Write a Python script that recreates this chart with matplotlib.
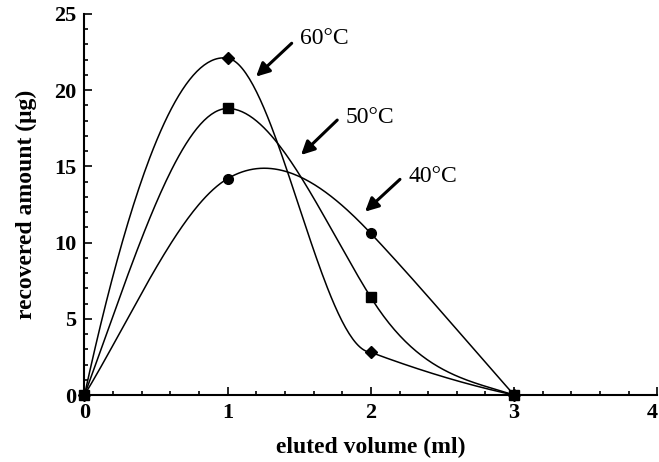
import numpy as np
import matplotlib
matplotlib.use('Agg')
from matplotlib import pyplot as plt
from matplotlib.ticker import MultipleLocator

volume = [0, 1, 2, 3]
amount_60 = [0, 22.1, 2.8, 0]
amount_50 = [0, 18.8, 6.4, 0]
amount_40 = [0, 14.2, 10.6, 0]
labels = ['60°C', '50°C', '40°C']

# curve slopes (arriving / leaving each point)
slope_in_60 = [43, -1.5, -0.5, -2]
slope_out_60 = [43, -1.5, -3.5, -2]
slope_in_50 = [25.5, 0, -15, -3]
slope_out_50 = [25.5, 0, -15, -3]
slope_in_40 = [15.5, 5.5, -10, -10.6]
slope_out_40 = [15.5, 5.5, -10, -10.6]


def hermite(x, y, m_in, m_out, n=80):
    xs, ys = [], []
    for i in range(len(x) - 1):
        h = x[i + 1] - x[i]
        t = np.linspace(0, 1, n)
        h00 = 2 * t**3 - 3 * t**2 + 1
        h10 = t**3 - 2 * t**2 + t
        h01 = -2 * t**3 + 3 * t**2
        h11 = t**3 - t**2
        xs.append(x[i] + h * t)
        ys.append(h00 * y[i] + h10 * h * m_out[i] + h01 * y[i + 1] + h11 * h * m_in[i + 1])
    return np.concatenate(xs), np.concatenate(ys)


fig = plt.figure(figsize=(6.59, 4.62), dpi=100)
ax = fig.add_axes([0.1282, 0.145, 0.8692, 0.8247])

series = [(amount_60, slope_in_60, slope_out_60, 'D', 6),
          (amount_50, slope_in_50, slope_out_50, 's', 7),
          (amount_40, slope_in_40, slope_out_40, 'o', 7)]
for ys, m_in, m_out, mk, ms in series:
    cx, cy = hermite(volume, ys, m_in, m_out)
    ax.plot(cx, cy, color='black', lw=1.1)
    ax.plot(volume, ys, mk, color='black', ms=ms, clip_on=False, zorder=3)

ax.set_xlim(0, 4)
ax.set_ylim(0, 25)
ax.xaxis.set_major_locator(MultipleLocator(1))
ax.xaxis.set_minor_locator(MultipleLocator(0.2))
ax.yaxis.set_major_locator(MultipleLocator(5))
ax.yaxis.set_minor_locator(MultipleLocator(1))
ax.tick_params(which='both', direction='in', width=1.2, labelsize=16)
ax.tick_params(which='major', length=6, pad=6)
ax.tick_params(which='minor', length=3)
ax.spines['top'].set_visible(False)
ax.spines['right'].set_visible(False)
ax.spines['left'].set_linewidth(1.5)
ax.spines['bottom'].set_linewidth(1.5)
fig.canvas.draw()
for lab in ax.get_xticklabels() + ax.get_yticklabels():
    lab.set_fontfamily('Liberation Serif')
    lab.set_fontweight('bold')
# last x label sits against the right edge
xlabs = [l for l in ax.get_xticklabels() if l.get_text() == '4']
for l in xlabs:
    l.set_horizontalalignment('right')

ax.set_xlabel('eluted volume (ml)', fontsize=17, fontweight='bold',
              fontfamily='Liberation Serif', labelpad=10)
ax.set_ylabel('recovered amount (μg)', fontsize=17, fontweight='bold',
              fontfamily='Liberation Serif', labelpad=12)

text_pos = [(1.505, 23.36), (1.824, 18.18), (2.261, 14.34)]
tails = [(1.447, 23.08), (1.765, 18.04), (2.203, 14.15)]
heads = [(1.198, 20.89), (1.512, 15.75), (1.959, 12.03)]
for lab, tp, tl, hd in zip(labels, text_pos, tails, heads):
    ax.text(tp[0], tp[1], lab, fontsize=17, fontfamily='Liberation Serif',
            va='center', ha='left')
    ax.annotate('', xy=hd, xytext=tl,
                arrowprops=dict(arrowstyle='-|>', color='black', lw=2.2,
                                mutation_scale=20, shrinkA=0, shrinkB=0))

fig.savefig('out.png', dpi=100)
